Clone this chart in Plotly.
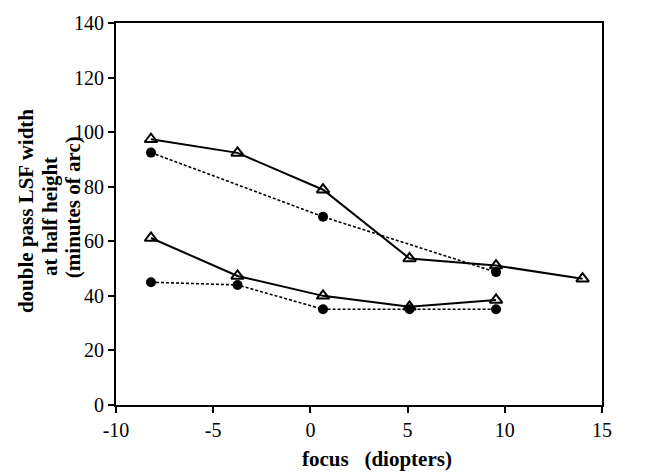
import plotly.graph_objects as go

# Focus positions (diopters)
focus = [-8.2, -3.75, 0.65, 5.1, 9.55, 14.0]

# Double-pass LSF width at half height (minutes of arc)
upper_tri = [97.4, 92.4, 78.9, 53.7, 51.1, 46.3]
upper_dot_x = [-8.2, 0.65, 9.55]
upper_dot = [92.5, 69.0, 48.7]
lower_tri = [61.2, 47.3, 40.0, 36.0, 38.5]
lower_dot = [45.0, 44.0, 35.1, 35.1, 35.1]

x_ticks = [-10, -5, 0, 5, 10, 15]
x_tick_text = ["-10", "-5", "0", "5", "10", "15"]
y_ticks = [0, 20, 40, 60, 80, 100, 120, 140]

FONT = "Liberation Serif"

fig = go.Figure()

solid = dict(color="black", width=2)
dotted = dict(color="black", width=1.6, dash="3px,2px")
tri = dict(symbol="triangle-up-open", size=11, color="black", line=dict(width=2, color="black"))
circ = dict(symbol="circle", size=10, color="black")

fig.add_trace(go.Scatter(x=upper_dot_x, y=upper_dot, mode="lines+markers",
                         line=dotted, marker=circ, showlegend=False))
fig.add_trace(go.Scatter(x=focus[:5], y=lower_dot, mode="lines+markers",
                         line=dotted, marker=circ, showlegend=False))
fig.add_trace(go.Scatter(x=focus, y=upper_tri, mode="lines+markers",
                         line=solid, marker=tri, showlegend=False))
fig.add_trace(go.Scatter(x=focus[:5], y=lower_tri, mode="lines+markers",
                         line=solid, marker=tri, showlegend=False))

axis_common = dict(
    showgrid=False, zeroline=False, showline=True, linecolor="black", linewidth=2,
    mirror=True, ticks="outside", ticklen=6, tickwidth=1.5, tickcolor="black",
    tickfont=dict(family=FONT, size=20, color="black"),
)

fig.update_xaxes(range=[-10, 15], tickvals=x_ticks, ticktext=x_tick_text, **axis_common)
fig.update_yaxes(range=[0, 140], tickvals=y_ticks, **axis_common)

title_font = dict(family=FONT, size=21, color="black", weight="bold")

PLOT_L, PLOT_W, PLOT_B, PLOT_H = 116, 486, 405, 390

fig.add_annotation(text="focus\u00a0\u00a0 (diopters)", xref="paper", yref="paper",
                   x=(377 - PLOT_L) / PLOT_W, y=-55 / PLOT_H, showarrow=False,
                   xanchor="center", yanchor="middle", font=title_font)

# y-axis title: three rotated lines
for line, px, py in [("double pass LSF width", 26, 207),
                     ("at half height", 50, 213),
                     ("(minutes of arc)", 73, 203)]:
    fig.add_annotation(text=line, xref="paper", yref="paper",
                       x=(px - PLOT_L) / PLOT_W, y=(PLOT_B - py) / PLOT_H,
                       textangle=-90, showarrow=False,
                       xanchor="center", yanchor="middle", font=title_font)

fig.update_layout(
    width=653, height=472,
    margin=dict(l=116, r=51, t=15, b=67),
    paper_bgcolor="white", plot_bgcolor="white",
)

fig.write_html("out.html")
